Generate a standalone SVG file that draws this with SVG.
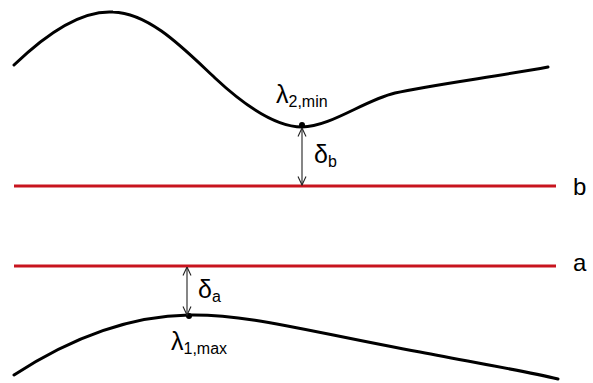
<svg xmlns="http://www.w3.org/2000/svg" width="593" height="383" viewBox="0 0 593 383">
<style>
.curve{fill:none;stroke:#000;stroke-width:3;stroke-linecap:round}
.red{stroke:#c8141e;stroke-width:3}
.dim{stroke:#222;stroke-width:1.1;fill:none}
.t{font-family:"Liberation Sans",Arial,sans-serif;fill:#000}
.big{font-size:25px}
.sub{font-size:16px}
.lbl{font-size:24px}
</style>
<defs>
<marker id="ah" viewBox="0 0 10 10" refX="9.5" refY="5" markerWidth="10" markerHeight="10" markerUnits="userSpaceOnUse" orient="auto-start-reverse">
<path d="M1,1 L9.5,5 L1,9" fill="none" stroke="#222" stroke-width="1.1"/>
</marker>
</defs>
<rect width="593" height="383" fill="#fff"/>
<g id="curve-top">
<path class="curve" d="M14,65 C45,35 80,10 113,12 C150,13 185,50 215,78 C245,106 275,127 302,127 C330,127 365,100 395,93 C430,85 500,76 548,67"/>
<circle cx="302" cy="125" r="3" fill="#000"/>
<text class="t big" x="276" y="103">λ<tspan class="sub" dy="4">2,min</tspan></text>
</g>
<g id="line-b">
<line class="red" x1="14" y1="186" x2="556" y2="186"/>
<text class="t lbl" x="573" y="195">b</text>
</g>
<g id="line-a">
<line class="red" x1="14" y1="266" x2="556" y2="266"/>
<text class="t lbl" x="573" y="271">a</text>
</g>
<g id="curve-bottom">
<path class="curve" d="M14,375 C60,345 120,316 189,315 C250,314 310,332 420,352 C470,362 520,370 558,379"/>
<circle cx="189" cy="316" r="3" fill="#000"/>
<text class="t big" x="171" y="350">λ<tspan class="sub" dy="4">1,max</tspan></text>
</g>
<g id="connectors">
<line class="dim" x1="302" y1="128" x2="302" y2="185" marker-start="url(#ah)" marker-end="url(#ah)"/>
<text class="t big" x="314" y="163">δ<tspan class="sub" dy="4">b</tspan></text>
<line class="dim" x1="187" y1="267" x2="187" y2="315" marker-start="url(#ah)" marker-end="url(#ah)"/>
<text class="t big" x="198" y="298">δ<tspan class="sub" dy="4">a</tspan></text>
</g>
</svg>
